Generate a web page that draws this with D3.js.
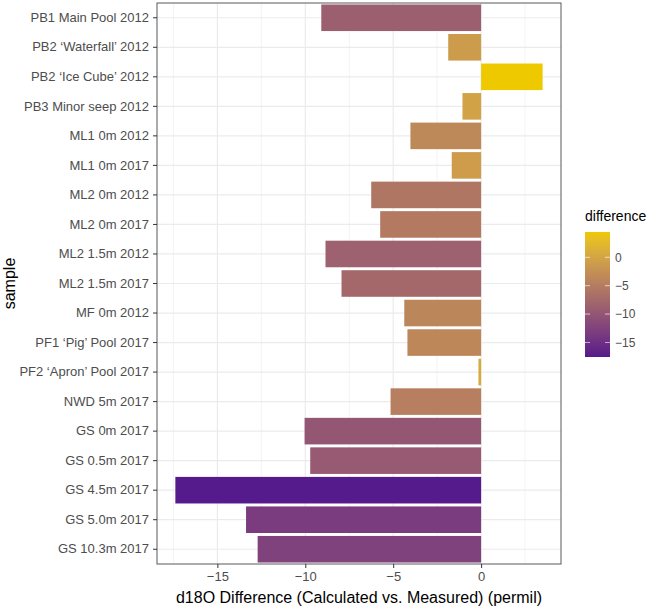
<!DOCTYPE html>
<html>
<head>
<meta charset="utf-8">
<script src="https://cdn.jsdelivr.net/npm/d3@7"></script>
<style>
html,body{margin:0;padding:0;background:#fff;}
svg{display:block;font-family:"Liberation Sans",Arial,Helvetica,sans-serif;}
</style>
</head>
<body>
<svg id="chart" width="660" height="610"></svg>
<script>
const samples = [
  "PB1 Main Pool 2012","PB2 \u2018Waterfall\u2019 2012","PB2 \u2018Ice Cube\u2019 2012","PB3 Minor seep 2012",
  "ML1 0m 2012","ML1 0m 2017","ML2 0m 2012","ML2 0m 2017","ML2 1.5m 2012","ML2 1.5m 2017",
  "MF 0m 2012","PF1 \u2018Pig\u2019 Pool 2017","PF2 \u2018Apron\u2019 Pool 2017","NWD 5m 2017",
  "GS 0m 2017","GS 0.5m 2017","GS 4.5m 2017","GS 5.0m 2017","GS 10.3m 2017"
];
const differences = [-9.09,-1.87,3.5,-1.06,-4.02,-1.67,-6.25,-5.74,-8.85,-7.94,-4.37,-4.19,-0.15,-5.15,-10.04,-9.72,-17.39,-13.37,-12.71];
const xTicks = [-15,-10,-5,0];
const xMinor = [-17.5,-12.5,-7.5,-2.5,2.5];
const legendTicks = [0,-5,-10,-15];
const lowColor = "#551A8B", highColor = "#EEC900";

const svg = d3.select("#chart");
const panel = {left:157, top:3, right:561, bottom:564};

const ext = d3.extent(differences.concat([0]));
const pad = (ext[1]-ext[0])*0.05;
const x = d3.scaleLinear().domain([ext[0]-pad, ext[1]+pad]).range([panel.left, panel.right]);
const y = d3.scaleBand().domain(samples).range([panel.top, panel.bottom]).paddingInner(0.1).paddingOuter(0.05);
const dataExt = d3.extent(differences);
const color = d3.scaleLinear().domain(dataExt).range([lowColor, highColor]).interpolate(d3.interpolateLab);

// panel background & grid
const g = svg.append("g");
g.append("rect").attr("x",panel.left).attr("y",panel.top).attr("width",panel.right-panel.left).attr("height",panel.bottom-panel.top).attr("fill","#fff");
g.selectAll(".minor").data(xMinor).join("line")
  .attr("x1",d=>x(d)).attr("x2",d=>x(d)).attr("y1",panel.top).attr("y2",panel.bottom)
  .attr("stroke","#EBEBEB").attr("stroke-width",0.6);
g.selectAll(".majorx").data(xTicks).join("line")
  .attr("x1",d=>x(d)).attr("x2",d=>x(d)).attr("y1",panel.top).attr("y2",panel.bottom)
  .attr("stroke","#EBEBEB").attr("stroke-width",1.2);
g.selectAll(".majory").data(samples).join("line")
  .attr("x1",panel.left).attr("x2",panel.right).attr("y1",d=>y(d)+y.bandwidth()/2).attr("y2",d=>y(d)+y.bandwidth()/2)
  .attr("stroke","#EBEBEB").attr("stroke-width",1.2);

// bars
g.selectAll(".bar").data(samples.map((s,i)=>({s, v:differences[i]}))).join("rect")
  .attr("x",d=>x(Math.min(0,d.v))).attr("width",d=>Math.abs(x(d.v)-x(0)))
  .attr("y",d=>y(d.s)).attr("height",y.bandwidth())
  .attr("fill",d=>color(d.v));

// border
g.append("rect").attr("x",panel.left).attr("y",panel.top).attr("width",panel.right-panel.left).attr("height",panel.bottom-panel.top)
  .attr("fill","none").attr("stroke","#595959").attr("stroke-width",1);

// axes
const xAxis = svg.append("g").attr("transform",`translate(0,${panel.bottom})`)
  .call(d3.axisBottom(x).tickValues(xTicks).tickFormat(d=>d<0?"\u2212"+Math.abs(d):d).tickSize(4).tickPadding(4));
xAxis.select(".domain").remove();
xAxis.selectAll(".tick line").attr("stroke","#333");
xAxis.selectAll(".tick text").attr("fill","#4D4D4D").style("font-size","13px");

const yAxis = svg.append("g").attr("transform",`translate(${panel.left},0)`)
  .call(d3.axisLeft(y).tickSize(4).tickPadding(4));
yAxis.select(".domain").remove();
yAxis.selectAll(".tick line").attr("stroke","#333");
yAxis.selectAll(".tick text").attr("fill","#4D4D4D").style("font-size","13px");

// axis titles
svg.append("text").attr("x",(panel.left+panel.right)/2).attr("y",603).attr("text-anchor","middle")
  .style("font-size","16px").attr("fill","#000").text("d18O Difference (Calculated vs. Measured) (permil)");
svg.append("text").attr("transform",`translate(15,${(panel.top+panel.bottom)/2}) rotate(-90)`).attr("text-anchor","middle")
  .style("font-size","16px").attr("fill","#000").text("sample");

// legend
const leg = {x:585, w:25, top:232, bottom:357};
const yL = d3.scaleLinear().domain([dataExt[0], 0]).range([356, 257.3]);
const defs = svg.append("defs");
const grad = defs.append("linearGradient").attr("id","lg").attr("x1",0).attr("y1",1).attr("x2",0).attr("y2",0);
const nStops = 20;
d3.range(nStops+1).forEach(i=>{
  const t = i/nStops;
  grad.append("stop").attr("offset",t).attr("stop-color",color(dataExt[0]+t*(dataExt[1]-dataExt[0])));
});
svg.append("text").attr("x",leg.x).attr("y",221).style("font-size","14px").attr("fill","#000").text("difference");
svg.append("rect").attr("x",leg.x).attr("y",leg.top).attr("width",leg.w).attr("height",leg.bottom-leg.top).attr("fill","url(#lg)");
const lt = svg.append("g");
legendTicks.forEach(v=>{
  lt.append("line").attr("x1",leg.x).attr("x2",leg.x+5).attr("y1",yL(v)).attr("y2",yL(v)).attr("stroke","#fff").attr("stroke-width",0.8).attr("opacity",0.8);
  lt.append("line").attr("x1",leg.x+leg.w-5).attr("x2",leg.x+leg.w).attr("y1",yL(v)).attr("y2",yL(v)).attr("stroke","#fff").attr("stroke-width",0.8).attr("opacity",0.8);
  lt.append("text").attr("x",leg.x+leg.w+5).attr("y",yL(v)).attr("dy","0.35em").style("font-size","12px").attr("fill","#4D4D4D")
    .text(v<0?"\u2212"+Math.abs(v):v);
});
</script>
</body>
</html>
